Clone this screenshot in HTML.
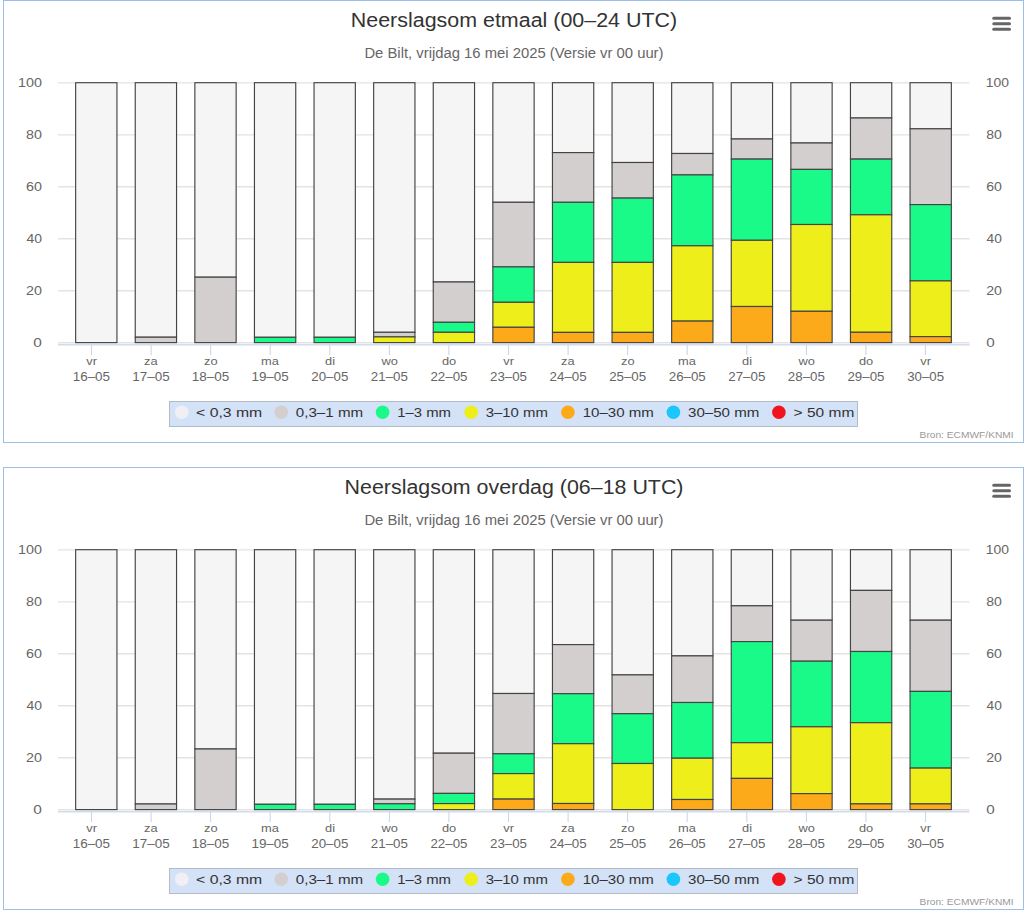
<!DOCTYPE html>
<html><head><meta charset="utf-8"><title>Neerslagsom</title>
<style>
html,body{margin:0;padding:0;background:#fff;}
body{width:1024px;height:915px;overflow:hidden;font-family:"Liberation Sans", sans-serif;}
svg{display:block;font-family:"Liberation Sans", sans-serif;}
</style></head><body>
<svg width="1024" height="915" viewBox="0 0 1024 915">
<rect x="3.5" y="0.5" width="1020" height="442" fill="#fff" stroke="#9dbdea" stroke-width="1"/>
<text x="350.79" y="26.70" font-size="20" fill="#333" textLength="326.38" lengthAdjust="spacingAndGlyphs">Neerslagsom etmaal (00–24 UTC)</text>
<text x="364.41" y="58.30" font-size="14" fill="#666" textLength="299.10" lengthAdjust="spacingAndGlyphs">De Bilt, vrijdag 16 mei 2025 (Versie vr 00 uur)</text>
<path d="M993.8 18.3 L1009.5 18.3" stroke="#666" stroke-width="3" stroke-linecap="round"/>
<path d="M993.8 23.8 L1009.5 23.8" stroke="#666" stroke-width="3" stroke-linecap="round"/>
<path d="M993.8 29.3 L1009.5 29.3" stroke="#666" stroke-width="3" stroke-linecap="round"/>
<path d="M58 82.85 L969.5 82.85" stroke="#e3e3e3" stroke-width="1.4"/>
<path d="M58 134.83 L969.5 134.83" stroke="#e3e3e3" stroke-width="1.4"/>
<path d="M58 186.81 L969.5 186.81" stroke="#e3e3e3" stroke-width="1.4"/>
<path d="M58 238.79 L969.5 238.79" stroke="#e3e3e3" stroke-width="1.4"/>
<path d="M58 290.77 L969.5 290.77" stroke="#e3e3e3" stroke-width="1.4"/>
<path d="M58 342.75 L969.5 342.75" stroke="#e3e3e3" stroke-width="1.4"/>
<text x="18.02" y="86.80" font-size="12.3" fill="#666" textLength="23.93" lengthAdjust="spacingAndGlyphs">100</text>
<text x="985.86" y="86.80" font-size="12.3" fill="#666" textLength="23.18" lengthAdjust="spacingAndGlyphs">100</text>
<text x="26.06" y="138.78" font-size="12.3" fill="#666" textLength="15.88" lengthAdjust="spacingAndGlyphs">80</text>
<text x="986.27" y="138.78" font-size="12.3" fill="#666" textLength="15.66" lengthAdjust="spacingAndGlyphs">80</text>
<text x="25.98" y="190.76" font-size="12.3" fill="#666" textLength="15.95" lengthAdjust="spacingAndGlyphs">60</text>
<text x="986.19" y="190.76" font-size="12.3" fill="#666" textLength="15.74" lengthAdjust="spacingAndGlyphs">60</text>
<text x="26.42" y="242.74" font-size="12.3" fill="#666" textLength="15.50" lengthAdjust="spacingAndGlyphs">40</text>
<text x="986.63" y="242.74" font-size="12.3" fill="#666" textLength="15.29" lengthAdjust="spacingAndGlyphs">40</text>
<text x="25.98" y="294.72" font-size="12.3" fill="#666" textLength="15.95" lengthAdjust="spacingAndGlyphs">20</text>
<text x="986.19" y="294.72" font-size="12.3" fill="#666" textLength="15.74" lengthAdjust="spacingAndGlyphs">20</text>
<text x="33.38" y="346.70" font-size="12.3" fill="#666" textLength="8.57" lengthAdjust="spacingAndGlyphs">0</text>
<text x="986.29" y="346.70" font-size="12.3" fill="#666" textLength="8.46" lengthAdjust="spacingAndGlyphs">0</text>
<rect x="75.65" y="82.7" width="41.3" height="259.9" fill="#f5f5f5" stroke="#444" stroke-width="1.15"/>
<rect x="135.25" y="82.7" width="41.3" height="254.5" fill="#f5f5f5" stroke="#444" stroke-width="1.15"/>
<rect x="135.25" y="337.2" width="41.3" height="5.4" fill="#d3cfcf" stroke="#444" stroke-width="1.15"/>
<rect x="194.85000000000002" y="82.7" width="41.3" height="194.5" fill="#f5f5f5" stroke="#444" stroke-width="1.15"/>
<rect x="194.85000000000002" y="277.2" width="41.3" height="65.4" fill="#d3cfcf" stroke="#444" stroke-width="1.15"/>
<rect x="254.45000000000002" y="82.7" width="41.3" height="254.6" fill="#f5f5f5" stroke="#444" stroke-width="1.15"/>
<rect x="254.45000000000002" y="337.3" width="41.3" height="5.3" fill="#1afa88" stroke="#444" stroke-width="1.15"/>
<rect x="314.05" y="82.7" width="41.3" height="254.6" fill="#f5f5f5" stroke="#444" stroke-width="1.15"/>
<rect x="314.05" y="337.3" width="41.3" height="5.3" fill="#1afa88" stroke="#444" stroke-width="1.15"/>
<rect x="373.65" y="82.7" width="41.3" height="249.6" fill="#f5f5f5" stroke="#444" stroke-width="1.15"/>
<rect x="373.65" y="332.3" width="41.3" height="4.6" fill="#d3cfcf" stroke="#444" stroke-width="1.15"/>
<rect x="373.65" y="336.9" width="41.3" height="5.7" fill="#eeee1a" stroke="#444" stroke-width="1.15"/>
<rect x="433.25" y="82.7" width="41.3" height="199.3" fill="#f5f5f5" stroke="#444" stroke-width="1.15"/>
<rect x="433.25" y="282.0" width="41.3" height="40.3" fill="#d3cfcf" stroke="#444" stroke-width="1.15"/>
<rect x="433.25" y="322.3" width="41.3" height="10.0" fill="#1afa88" stroke="#444" stroke-width="1.15"/>
<rect x="433.25" y="332.3" width="41.3" height="10.3" fill="#eeee1a" stroke="#444" stroke-width="1.15"/>
<rect x="492.85" y="82.7" width="41.3" height="119.6" fill="#f5f5f5" stroke="#444" stroke-width="1.15"/>
<rect x="492.85" y="202.3" width="41.3" height="64.6" fill="#d3cfcf" stroke="#444" stroke-width="1.15"/>
<rect x="492.85" y="266.9" width="41.3" height="35.4" fill="#1afa88" stroke="#444" stroke-width="1.15"/>
<rect x="492.85" y="302.3" width="41.3" height="25.0" fill="#eeee1a" stroke="#444" stroke-width="1.15"/>
<rect x="492.85" y="327.3" width="41.3" height="15.3" fill="#fca91a" stroke="#444" stroke-width="1.15"/>
<rect x="552.45" y="82.7" width="41.3" height="69.9" fill="#f5f5f5" stroke="#444" stroke-width="1.15"/>
<rect x="552.45" y="152.6" width="41.3" height="49.7" fill="#d3cfcf" stroke="#444" stroke-width="1.15"/>
<rect x="552.45" y="202.3" width="41.3" height="60.1" fill="#1afa88" stroke="#444" stroke-width="1.15"/>
<rect x="552.45" y="262.4" width="41.3" height="70.0" fill="#eeee1a" stroke="#444" stroke-width="1.15"/>
<rect x="552.45" y="332.4" width="41.3" height="10.2" fill="#fca91a" stroke="#444" stroke-width="1.15"/>
<rect x="612.05" y="82.7" width="41.3" height="79.8" fill="#f5f5f5" stroke="#444" stroke-width="1.15"/>
<rect x="612.05" y="162.5" width="41.3" height="35.6" fill="#d3cfcf" stroke="#444" stroke-width="1.15"/>
<rect x="612.05" y="198.1" width="41.3" height="64.3" fill="#1afa88" stroke="#444" stroke-width="1.15"/>
<rect x="612.05" y="262.4" width="41.3" height="70.0" fill="#eeee1a" stroke="#444" stroke-width="1.15"/>
<rect x="612.05" y="332.4" width="41.3" height="10.2" fill="#fca91a" stroke="#444" stroke-width="1.15"/>
<rect x="671.65" y="82.7" width="41.3" height="70.8" fill="#f5f5f5" stroke="#444" stroke-width="1.15"/>
<rect x="671.65" y="153.5" width="41.3" height="21.4" fill="#d3cfcf" stroke="#444" stroke-width="1.15"/>
<rect x="671.65" y="174.9" width="41.3" height="70.9" fill="#1afa88" stroke="#444" stroke-width="1.15"/>
<rect x="671.65" y="245.8" width="41.3" height="75.3" fill="#eeee1a" stroke="#444" stroke-width="1.15"/>
<rect x="671.65" y="321.1" width="41.3" height="21.5" fill="#fca91a" stroke="#444" stroke-width="1.15"/>
<rect x="731.25" y="82.7" width="41.3" height="56.3" fill="#f5f5f5" stroke="#444" stroke-width="1.15"/>
<rect x="731.25" y="139.0" width="41.3" height="20.1" fill="#d3cfcf" stroke="#444" stroke-width="1.15"/>
<rect x="731.25" y="159.1" width="41.3" height="81.2" fill="#1afa88" stroke="#444" stroke-width="1.15"/>
<rect x="731.25" y="240.3" width="41.3" height="66.2" fill="#eeee1a" stroke="#444" stroke-width="1.15"/>
<rect x="731.25" y="306.5" width="41.3" height="36.1" fill="#fca91a" stroke="#444" stroke-width="1.15"/>
<rect x="790.85" y="82.7" width="41.3" height="60.3" fill="#f5f5f5" stroke="#444" stroke-width="1.15"/>
<rect x="790.85" y="143.0" width="41.3" height="26.4" fill="#d3cfcf" stroke="#444" stroke-width="1.15"/>
<rect x="790.85" y="169.4" width="41.3" height="55.1" fill="#1afa88" stroke="#444" stroke-width="1.15"/>
<rect x="790.85" y="224.5" width="41.3" height="86.8" fill="#eeee1a" stroke="#444" stroke-width="1.15"/>
<rect x="790.85" y="311.3" width="41.3" height="31.3" fill="#fca91a" stroke="#444" stroke-width="1.15"/>
<rect x="850.45" y="82.7" width="41.3" height="35.3" fill="#f5f5f5" stroke="#444" stroke-width="1.15"/>
<rect x="850.45" y="118.0" width="41.3" height="41.1" fill="#d3cfcf" stroke="#444" stroke-width="1.15"/>
<rect x="850.45" y="159.1" width="41.3" height="55.7" fill="#1afa88" stroke="#444" stroke-width="1.15"/>
<rect x="850.45" y="214.8" width="41.3" height="117.5" fill="#eeee1a" stroke="#444" stroke-width="1.15"/>
<rect x="850.45" y="332.3" width="41.3" height="10.3" fill="#fca91a" stroke="#444" stroke-width="1.15"/>
<rect x="910.05" y="82.7" width="41.3" height="46.1" fill="#f5f5f5" stroke="#444" stroke-width="1.15"/>
<rect x="910.05" y="128.8" width="41.3" height="75.8" fill="#d3cfcf" stroke="#444" stroke-width="1.15"/>
<rect x="910.05" y="204.6" width="41.3" height="76.3" fill="#1afa88" stroke="#444" stroke-width="1.15"/>
<rect x="910.05" y="280.9" width="41.3" height="55.7" fill="#eeee1a" stroke="#444" stroke-width="1.15"/>
<rect x="910.05" y="336.6" width="41.3" height="6.0" fill="#fca91a" stroke="#444" stroke-width="1.15"/>
<path d="M58 344.75 L969.5 344.75" stroke="#d3dbee" stroke-width="1.4"/>
<path d="M91.5 345 L91.5 355" stroke="#ccd6eb" stroke-width="1.1"/>
<text x="86.34" y="365.10" font-size="11.4" fill="#666" textLength="10.70" lengthAdjust="spacingAndGlyphs">vr</text>
<text x="72.69" y="380.80" font-size="12.2" fill="#666" textLength="37.36" lengthAdjust="spacingAndGlyphs">16–05</text>
<path d="M151.1 345 L151.1 355" stroke="#ccd6eb" stroke-width="1.1"/>
<text x="144.14" y="365.10" font-size="11.4" fill="#666" textLength="13.56" lengthAdjust="spacingAndGlyphs">za</text>
<text x="132.26" y="380.80" font-size="12.2" fill="#666" textLength="37.36" lengthAdjust="spacingAndGlyphs">17–05</text>
<path d="M210.6 345 L210.6 355" stroke="#ccd6eb" stroke-width="1.1"/>
<text x="203.97" y="365.10" font-size="11.4" fill="#666" textLength="13.56" lengthAdjust="spacingAndGlyphs">zo</text>
<text x="191.83" y="380.80" font-size="12.2" fill="#666" textLength="37.36" lengthAdjust="spacingAndGlyphs">18–05</text>
<path d="M270.2 345 L270.2 355" stroke="#ccd6eb" stroke-width="1.1"/>
<text x="260.97" y="365.10" font-size="11.4" fill="#666" textLength="17.84" lengthAdjust="spacingAndGlyphs">ma</text>
<text x="251.41" y="380.80" font-size="12.2" fill="#666" textLength="37.36" lengthAdjust="spacingAndGlyphs">19–05</text>
<path d="M329.8 345 L329.8 355" stroke="#ccd6eb" stroke-width="1.1"/>
<text x="325.07" y="365.10" font-size="11.4" fill="#666" textLength="9.99" lengthAdjust="spacingAndGlyphs">di</text>
<text x="311.32" y="380.80" font-size="12.2" fill="#666" textLength="37.01" lengthAdjust="spacingAndGlyphs">20–05</text>
<path d="M389.4 345 L389.4 355" stroke="#ccd6eb" stroke-width="1.1"/>
<text x="381.53" y="365.10" font-size="11.4" fill="#666" textLength="16.41" lengthAdjust="spacingAndGlyphs">wo</text>
<text x="370.89" y="380.80" font-size="12.2" fill="#666" textLength="37.01" lengthAdjust="spacingAndGlyphs">21–05</text>
<path d="M448.9 345 L448.9 355" stroke="#ccd6eb" stroke-width="1.1"/>
<text x="441.90" y="365.10" font-size="11.4" fill="#666" textLength="14.28" lengthAdjust="spacingAndGlyphs">do</text>
<text x="430.46" y="380.80" font-size="12.2" fill="#666" textLength="37.01" lengthAdjust="spacingAndGlyphs">22–05</text>
<path d="M508.5 345 L508.5 355" stroke="#ccd6eb" stroke-width="1.1"/>
<text x="503.33" y="365.10" font-size="11.4" fill="#666" textLength="10.70" lengthAdjust="spacingAndGlyphs">vr</text>
<text x="490.03" y="380.80" font-size="12.2" fill="#666" textLength="37.01" lengthAdjust="spacingAndGlyphs">23–05</text>
<path d="M568.1 345 L568.1 355" stroke="#ccd6eb" stroke-width="1.1"/>
<text x="561.14" y="365.10" font-size="11.4" fill="#666" textLength="13.56" lengthAdjust="spacingAndGlyphs">za</text>
<text x="549.60" y="380.80" font-size="12.2" fill="#666" textLength="37.01" lengthAdjust="spacingAndGlyphs">24–05</text>
<path d="M627.6 345 L627.6 355" stroke="#ccd6eb" stroke-width="1.1"/>
<text x="620.97" y="365.10" font-size="11.4" fill="#666" textLength="13.56" lengthAdjust="spacingAndGlyphs">zo</text>
<text x="609.17" y="380.80" font-size="12.2" fill="#666" textLength="37.01" lengthAdjust="spacingAndGlyphs">25–05</text>
<path d="M687.2 345 L687.2 355" stroke="#ccd6eb" stroke-width="1.1"/>
<text x="677.97" y="365.10" font-size="11.4" fill="#666" textLength="17.84" lengthAdjust="spacingAndGlyphs">ma</text>
<text x="668.74" y="380.80" font-size="12.2" fill="#666" textLength="37.01" lengthAdjust="spacingAndGlyphs">26–05</text>
<path d="M746.8 345 L746.8 355" stroke="#ccd6eb" stroke-width="1.1"/>
<text x="742.07" y="365.10" font-size="11.4" fill="#666" textLength="9.99" lengthAdjust="spacingAndGlyphs">di</text>
<text x="728.32" y="380.80" font-size="12.2" fill="#666" textLength="37.01" lengthAdjust="spacingAndGlyphs">27–05</text>
<path d="M806.4 345 L806.4 355" stroke="#ccd6eb" stroke-width="1.1"/>
<text x="798.52" y="365.10" font-size="11.4" fill="#666" textLength="16.41" lengthAdjust="spacingAndGlyphs">wo</text>
<text x="787.89" y="380.80" font-size="12.2" fill="#666" textLength="37.01" lengthAdjust="spacingAndGlyphs">28–05</text>
<path d="M865.9 345 L865.9 355" stroke="#ccd6eb" stroke-width="1.1"/>
<text x="858.90" y="365.10" font-size="11.4" fill="#666" textLength="14.28" lengthAdjust="spacingAndGlyphs">do</text>
<text x="847.46" y="380.80" font-size="12.2" fill="#666" textLength="37.01" lengthAdjust="spacingAndGlyphs">29–05</text>
<path d="M925.5 345 L925.5 355" stroke="#ccd6eb" stroke-width="1.1"/>
<text x="920.33" y="365.10" font-size="11.4" fill="#666" textLength="10.70" lengthAdjust="spacingAndGlyphs">vr</text>
<text x="907.16" y="380.80" font-size="12.2" fill="#666" textLength="36.87" lengthAdjust="spacingAndGlyphs">30–05</text>
<rect x="169.5" y="401.5" width="688" height="25" fill="#d3e2f7" stroke="#b4bac6" stroke-width="1"/>
<circle cx="181.8" cy="412.3" r="6.8" fill="#f0f0f4"/>
<text x="196.11" y="417.30" font-size="13.4" fill="#333" textLength="66.15" lengthAdjust="spacingAndGlyphs">&lt; 0,3 mm</text>
<circle cx="281.3" cy="412.3" r="6.8" fill="#d3cfcf"/>
<text x="295.79" y="417.30" font-size="13.4" fill="#333" textLength="67.34" lengthAdjust="spacingAndGlyphs">0,3–1 mm</text>
<circle cx="382.6" cy="412.3" r="6.8" fill="#1afa88"/>
<text x="397.28" y="417.30" font-size="13.4" fill="#333" textLength="53.74" lengthAdjust="spacingAndGlyphs">1–3 mm</text>
<circle cx="471.2" cy="412.3" r="6.8" fill="#eeee1a"/>
<text x="485.70" y="417.30" font-size="13.4" fill="#333" textLength="62.25" lengthAdjust="spacingAndGlyphs">3–10 mm</text>
<circle cx="567.9" cy="412.3" r="6.8" fill="#fca91a"/>
<text x="582.67" y="417.30" font-size="13.4" fill="#333" textLength="71.10" lengthAdjust="spacingAndGlyphs">10–30 mm</text>
<circle cx="673.4" cy="412.3" r="6.8" fill="#1ac6fb"/>
<text x="688.00" y="417.30" font-size="13.4" fill="#333" textLength="71.28" lengthAdjust="spacingAndGlyphs">30–50 mm</text>
<circle cx="778.9" cy="412.3" r="6.8" fill="#f0141e"/>
<text x="793.63" y="417.30" font-size="13.4" fill="#333" textLength="60.65" lengthAdjust="spacingAndGlyphs">&gt; 50 mm</text>
<text x="919.58" y="438.40" font-size="9.7" fill="#999" textLength="94.06" lengthAdjust="spacingAndGlyphs">Bron: ECMWF/KNMI</text>
<rect x="3.5" y="467.5" width="1020" height="442" fill="#fff" stroke="#9dbdea" stroke-width="1"/>
<text x="344.59" y="493.70" font-size="20" fill="#333" textLength="338.91" lengthAdjust="spacingAndGlyphs">Neerslagsom overdag (06–18 UTC)</text>
<text x="364.41" y="525.30" font-size="14" fill="#666" textLength="299.10" lengthAdjust="spacingAndGlyphs">De Bilt, vrijdag 16 mei 2025 (Versie vr 00 uur)</text>
<path d="M993.8 485.3 L1009.5 485.3" stroke="#666" stroke-width="3" stroke-linecap="round"/>
<path d="M993.8 490.8 L1009.5 490.8" stroke="#666" stroke-width="3" stroke-linecap="round"/>
<path d="M993.8 496.3 L1009.5 496.3" stroke="#666" stroke-width="3" stroke-linecap="round"/>
<path d="M58 549.85 L969.5 549.85" stroke="#e3e3e3" stroke-width="1.4"/>
<path d="M58 601.83 L969.5 601.83" stroke="#e3e3e3" stroke-width="1.4"/>
<path d="M58 653.81 L969.5 653.81" stroke="#e3e3e3" stroke-width="1.4"/>
<path d="M58 705.79 L969.5 705.79" stroke="#e3e3e3" stroke-width="1.4"/>
<path d="M58 757.77 L969.5 757.77" stroke="#e3e3e3" stroke-width="1.4"/>
<path d="M58 809.75 L969.5 809.75" stroke="#e3e3e3" stroke-width="1.4"/>
<text x="18.02" y="553.80" font-size="12.3" fill="#666" textLength="23.93" lengthAdjust="spacingAndGlyphs">100</text>
<text x="985.86" y="553.80" font-size="12.3" fill="#666" textLength="23.18" lengthAdjust="spacingAndGlyphs">100</text>
<text x="26.06" y="605.78" font-size="12.3" fill="#666" textLength="15.88" lengthAdjust="spacingAndGlyphs">80</text>
<text x="986.27" y="605.78" font-size="12.3" fill="#666" textLength="15.66" lengthAdjust="spacingAndGlyphs">80</text>
<text x="25.98" y="657.76" font-size="12.3" fill="#666" textLength="15.95" lengthAdjust="spacingAndGlyphs">60</text>
<text x="986.19" y="657.76" font-size="12.3" fill="#666" textLength="15.74" lengthAdjust="spacingAndGlyphs">60</text>
<text x="26.42" y="709.74" font-size="12.3" fill="#666" textLength="15.50" lengthAdjust="spacingAndGlyphs">40</text>
<text x="986.63" y="709.74" font-size="12.3" fill="#666" textLength="15.29" lengthAdjust="spacingAndGlyphs">40</text>
<text x="25.98" y="761.72" font-size="12.3" fill="#666" textLength="15.95" lengthAdjust="spacingAndGlyphs">20</text>
<text x="986.19" y="761.72" font-size="12.3" fill="#666" textLength="15.74" lengthAdjust="spacingAndGlyphs">20</text>
<text x="33.38" y="813.70" font-size="12.3" fill="#666" textLength="8.57" lengthAdjust="spacingAndGlyphs">0</text>
<text x="986.29" y="813.70" font-size="12.3" fill="#666" textLength="8.46" lengthAdjust="spacingAndGlyphs">0</text>
<rect x="75.65" y="549.7" width="41.3" height="259.9" fill="#f5f5f5" stroke="#444" stroke-width="1.15"/>
<rect x="135.25" y="549.7" width="41.3" height="254.3" fill="#f5f5f5" stroke="#444" stroke-width="1.15"/>
<rect x="135.25" y="804.0" width="41.3" height="5.6" fill="#d3cfcf" stroke="#444" stroke-width="1.15"/>
<rect x="194.85000000000002" y="549.7" width="41.3" height="199.3" fill="#f5f5f5" stroke="#444" stroke-width="1.15"/>
<rect x="194.85000000000002" y="749.0" width="41.3" height="60.6" fill="#d3cfcf" stroke="#444" stroke-width="1.15"/>
<rect x="254.45000000000002" y="549.7" width="41.3" height="254.6" fill="#f5f5f5" stroke="#444" stroke-width="1.15"/>
<rect x="254.45000000000002" y="804.3" width="41.3" height="5.3" fill="#1afa88" stroke="#444" stroke-width="1.15"/>
<rect x="314.05" y="549.7" width="41.3" height="254.6" fill="#f5f5f5" stroke="#444" stroke-width="1.15"/>
<rect x="314.05" y="804.3" width="41.3" height="5.3" fill="#1afa88" stroke="#444" stroke-width="1.15"/>
<rect x="373.65" y="549.7" width="41.3" height="249.4" fill="#f5f5f5" stroke="#444" stroke-width="1.15"/>
<rect x="373.65" y="799.1" width="41.3" height="4.7" fill="#d3cfcf" stroke="#444" stroke-width="1.15"/>
<rect x="373.65" y="803.8" width="41.3" height="5.8" fill="#1afa88" stroke="#444" stroke-width="1.15"/>
<rect x="433.25" y="549.7" width="41.3" height="203.5" fill="#f5f5f5" stroke="#444" stroke-width="1.15"/>
<rect x="433.25" y="753.2" width="41.3" height="40.2" fill="#d3cfcf" stroke="#444" stroke-width="1.15"/>
<rect x="433.25" y="793.4" width="41.3" height="10.2" fill="#1afa88" stroke="#444" stroke-width="1.15"/>
<rect x="433.25" y="803.6" width="41.3" height="6.0" fill="#eeee1a" stroke="#444" stroke-width="1.15"/>
<rect x="492.85" y="549.7" width="41.3" height="143.8" fill="#f5f5f5" stroke="#444" stroke-width="1.15"/>
<rect x="492.85" y="693.5" width="41.3" height="60.3" fill="#d3cfcf" stroke="#444" stroke-width="1.15"/>
<rect x="492.85" y="753.8" width="41.3" height="19.8" fill="#1afa88" stroke="#444" stroke-width="1.15"/>
<rect x="492.85" y="773.6" width="41.3" height="25.5" fill="#eeee1a" stroke="#444" stroke-width="1.15"/>
<rect x="492.85" y="799.1" width="41.3" height="10.5" fill="#fca91a" stroke="#444" stroke-width="1.15"/>
<rect x="552.45" y="549.7" width="41.3" height="94.9" fill="#f5f5f5" stroke="#444" stroke-width="1.15"/>
<rect x="552.45" y="644.6" width="41.3" height="49.1" fill="#d3cfcf" stroke="#444" stroke-width="1.15"/>
<rect x="552.45" y="693.7" width="41.3" height="50.0" fill="#1afa88" stroke="#444" stroke-width="1.15"/>
<rect x="552.45" y="743.7" width="41.3" height="59.8" fill="#eeee1a" stroke="#444" stroke-width="1.15"/>
<rect x="552.45" y="803.5" width="41.3" height="6.1" fill="#fca91a" stroke="#444" stroke-width="1.15"/>
<rect x="612.05" y="549.7" width="41.3" height="125.2" fill="#f5f5f5" stroke="#444" stroke-width="1.15"/>
<rect x="612.05" y="674.9" width="41.3" height="38.8" fill="#d3cfcf" stroke="#444" stroke-width="1.15"/>
<rect x="612.05" y="713.7" width="41.3" height="49.8" fill="#1afa88" stroke="#444" stroke-width="1.15"/>
<rect x="612.05" y="763.5" width="41.3" height="46.1" fill="#eeee1a" stroke="#444" stroke-width="1.15"/>
<rect x="671.65" y="549.7" width="41.3" height="106.2" fill="#f5f5f5" stroke="#444" stroke-width="1.15"/>
<rect x="671.65" y="655.9" width="41.3" height="46.6" fill="#d3cfcf" stroke="#444" stroke-width="1.15"/>
<rect x="671.65" y="702.5" width="41.3" height="55.7" fill="#1afa88" stroke="#444" stroke-width="1.15"/>
<rect x="671.65" y="758.2" width="41.3" height="41.3" fill="#eeee1a" stroke="#444" stroke-width="1.15"/>
<rect x="671.65" y="799.5" width="41.3" height="10.1" fill="#fca91a" stroke="#444" stroke-width="1.15"/>
<rect x="731.25" y="549.7" width="41.3" height="56.1" fill="#f5f5f5" stroke="#444" stroke-width="1.15"/>
<rect x="731.25" y="605.8" width="41.3" height="35.8" fill="#d3cfcf" stroke="#444" stroke-width="1.15"/>
<rect x="731.25" y="641.6" width="41.3" height="101.1" fill="#1afa88" stroke="#444" stroke-width="1.15"/>
<rect x="731.25" y="742.7" width="41.3" height="35.7" fill="#eeee1a" stroke="#444" stroke-width="1.15"/>
<rect x="731.25" y="778.4" width="41.3" height="31.2" fill="#fca91a" stroke="#444" stroke-width="1.15"/>
<rect x="790.85" y="549.7" width="41.3" height="70.5" fill="#f5f5f5" stroke="#444" stroke-width="1.15"/>
<rect x="790.85" y="620.2" width="41.3" height="41.0" fill="#d3cfcf" stroke="#444" stroke-width="1.15"/>
<rect x="790.85" y="661.2" width="41.3" height="65.6" fill="#1afa88" stroke="#444" stroke-width="1.15"/>
<rect x="790.85" y="726.8" width="41.3" height="66.8" fill="#eeee1a" stroke="#444" stroke-width="1.15"/>
<rect x="790.85" y="793.6" width="41.3" height="16.0" fill="#fca91a" stroke="#444" stroke-width="1.15"/>
<rect x="850.45" y="549.7" width="41.3" height="40.7" fill="#f5f5f5" stroke="#444" stroke-width="1.15"/>
<rect x="850.45" y="590.4" width="41.3" height="61.1" fill="#d3cfcf" stroke="#444" stroke-width="1.15"/>
<rect x="850.45" y="651.5" width="41.3" height="71.2" fill="#1afa88" stroke="#444" stroke-width="1.15"/>
<rect x="850.45" y="722.7" width="41.3" height="81.2" fill="#eeee1a" stroke="#444" stroke-width="1.15"/>
<rect x="850.45" y="803.9" width="41.3" height="5.7" fill="#fca91a" stroke="#444" stroke-width="1.15"/>
<rect x="910.05" y="549.7" width="41.3" height="70.5" fill="#f5f5f5" stroke="#444" stroke-width="1.15"/>
<rect x="910.05" y="620.2" width="41.3" height="71.2" fill="#d3cfcf" stroke="#444" stroke-width="1.15"/>
<rect x="910.05" y="691.4" width="41.3" height="76.7" fill="#1afa88" stroke="#444" stroke-width="1.15"/>
<rect x="910.05" y="768.1" width="41.3" height="35.8" fill="#eeee1a" stroke="#444" stroke-width="1.15"/>
<rect x="910.05" y="803.9" width="41.3" height="5.7" fill="#fca91a" stroke="#444" stroke-width="1.15"/>
<path d="M58 811.75 L969.5 811.75" stroke="#d3dbee" stroke-width="1.4"/>
<path d="M91.5 812 L91.5 822" stroke="#ccd6eb" stroke-width="1.1"/>
<text x="86.34" y="832.10" font-size="11.4" fill="#666" textLength="10.70" lengthAdjust="spacingAndGlyphs">vr</text>
<text x="72.69" y="847.80" font-size="12.2" fill="#666" textLength="37.36" lengthAdjust="spacingAndGlyphs">16–05</text>
<path d="M151.1 812 L151.1 822" stroke="#ccd6eb" stroke-width="1.1"/>
<text x="144.14" y="832.10" font-size="11.4" fill="#666" textLength="13.56" lengthAdjust="spacingAndGlyphs">za</text>
<text x="132.26" y="847.80" font-size="12.2" fill="#666" textLength="37.36" lengthAdjust="spacingAndGlyphs">17–05</text>
<path d="M210.6 812 L210.6 822" stroke="#ccd6eb" stroke-width="1.1"/>
<text x="203.97" y="832.10" font-size="11.4" fill="#666" textLength="13.56" lengthAdjust="spacingAndGlyphs">zo</text>
<text x="191.83" y="847.80" font-size="12.2" fill="#666" textLength="37.36" lengthAdjust="spacingAndGlyphs">18–05</text>
<path d="M270.2 812 L270.2 822" stroke="#ccd6eb" stroke-width="1.1"/>
<text x="260.97" y="832.10" font-size="11.4" fill="#666" textLength="17.84" lengthAdjust="spacingAndGlyphs">ma</text>
<text x="251.41" y="847.80" font-size="12.2" fill="#666" textLength="37.36" lengthAdjust="spacingAndGlyphs">19–05</text>
<path d="M329.8 812 L329.8 822" stroke="#ccd6eb" stroke-width="1.1"/>
<text x="325.07" y="832.10" font-size="11.4" fill="#666" textLength="9.99" lengthAdjust="spacingAndGlyphs">di</text>
<text x="311.32" y="847.80" font-size="12.2" fill="#666" textLength="37.01" lengthAdjust="spacingAndGlyphs">20–05</text>
<path d="M389.4 812 L389.4 822" stroke="#ccd6eb" stroke-width="1.1"/>
<text x="381.53" y="832.10" font-size="11.4" fill="#666" textLength="16.41" lengthAdjust="spacingAndGlyphs">wo</text>
<text x="370.89" y="847.80" font-size="12.2" fill="#666" textLength="37.01" lengthAdjust="spacingAndGlyphs">21–05</text>
<path d="M448.9 812 L448.9 822" stroke="#ccd6eb" stroke-width="1.1"/>
<text x="441.90" y="832.10" font-size="11.4" fill="#666" textLength="14.28" lengthAdjust="spacingAndGlyphs">do</text>
<text x="430.46" y="847.80" font-size="12.2" fill="#666" textLength="37.01" lengthAdjust="spacingAndGlyphs">22–05</text>
<path d="M508.5 812 L508.5 822" stroke="#ccd6eb" stroke-width="1.1"/>
<text x="503.33" y="832.10" font-size="11.4" fill="#666" textLength="10.70" lengthAdjust="spacingAndGlyphs">vr</text>
<text x="490.03" y="847.80" font-size="12.2" fill="#666" textLength="37.01" lengthAdjust="spacingAndGlyphs">23–05</text>
<path d="M568.1 812 L568.1 822" stroke="#ccd6eb" stroke-width="1.1"/>
<text x="561.14" y="832.10" font-size="11.4" fill="#666" textLength="13.56" lengthAdjust="spacingAndGlyphs">za</text>
<text x="549.60" y="847.80" font-size="12.2" fill="#666" textLength="37.01" lengthAdjust="spacingAndGlyphs">24–05</text>
<path d="M627.6 812 L627.6 822" stroke="#ccd6eb" stroke-width="1.1"/>
<text x="620.97" y="832.10" font-size="11.4" fill="#666" textLength="13.56" lengthAdjust="spacingAndGlyphs">zo</text>
<text x="609.17" y="847.80" font-size="12.2" fill="#666" textLength="37.01" lengthAdjust="spacingAndGlyphs">25–05</text>
<path d="M687.2 812 L687.2 822" stroke="#ccd6eb" stroke-width="1.1"/>
<text x="677.97" y="832.10" font-size="11.4" fill="#666" textLength="17.84" lengthAdjust="spacingAndGlyphs">ma</text>
<text x="668.74" y="847.80" font-size="12.2" fill="#666" textLength="37.01" lengthAdjust="spacingAndGlyphs">26–05</text>
<path d="M746.8 812 L746.8 822" stroke="#ccd6eb" stroke-width="1.1"/>
<text x="742.07" y="832.10" font-size="11.4" fill="#666" textLength="9.99" lengthAdjust="spacingAndGlyphs">di</text>
<text x="728.32" y="847.80" font-size="12.2" fill="#666" textLength="37.01" lengthAdjust="spacingAndGlyphs">27–05</text>
<path d="M806.4 812 L806.4 822" stroke="#ccd6eb" stroke-width="1.1"/>
<text x="798.52" y="832.10" font-size="11.4" fill="#666" textLength="16.41" lengthAdjust="spacingAndGlyphs">wo</text>
<text x="787.89" y="847.80" font-size="12.2" fill="#666" textLength="37.01" lengthAdjust="spacingAndGlyphs">28–05</text>
<path d="M865.9 812 L865.9 822" stroke="#ccd6eb" stroke-width="1.1"/>
<text x="858.90" y="832.10" font-size="11.4" fill="#666" textLength="14.28" lengthAdjust="spacingAndGlyphs">do</text>
<text x="847.46" y="847.80" font-size="12.2" fill="#666" textLength="37.01" lengthAdjust="spacingAndGlyphs">29–05</text>
<path d="M925.5 812 L925.5 822" stroke="#ccd6eb" stroke-width="1.1"/>
<text x="920.33" y="832.10" font-size="11.4" fill="#666" textLength="10.70" lengthAdjust="spacingAndGlyphs">vr</text>
<text x="907.16" y="847.80" font-size="12.2" fill="#666" textLength="36.87" lengthAdjust="spacingAndGlyphs">30–05</text>
<rect x="169.5" y="868.5" width="688" height="25" fill="#d3e2f7" stroke="#b4bac6" stroke-width="1"/>
<circle cx="181.8" cy="879.3" r="6.8" fill="#f0f0f4"/>
<text x="196.11" y="884.30" font-size="13.4" fill="#333" textLength="66.15" lengthAdjust="spacingAndGlyphs">&lt; 0,3 mm</text>
<circle cx="281.3" cy="879.3" r="6.8" fill="#d3cfcf"/>
<text x="295.79" y="884.30" font-size="13.4" fill="#333" textLength="67.34" lengthAdjust="spacingAndGlyphs">0,3–1 mm</text>
<circle cx="382.6" cy="879.3" r="6.8" fill="#1afa88"/>
<text x="397.28" y="884.30" font-size="13.4" fill="#333" textLength="53.74" lengthAdjust="spacingAndGlyphs">1–3 mm</text>
<circle cx="471.2" cy="879.3" r="6.8" fill="#eeee1a"/>
<text x="485.70" y="884.30" font-size="13.4" fill="#333" textLength="62.25" lengthAdjust="spacingAndGlyphs">3–10 mm</text>
<circle cx="567.9" cy="879.3" r="6.8" fill="#fca91a"/>
<text x="582.67" y="884.30" font-size="13.4" fill="#333" textLength="71.10" lengthAdjust="spacingAndGlyphs">10–30 mm</text>
<circle cx="673.4" cy="879.3" r="6.8" fill="#1ac6fb"/>
<text x="688.00" y="884.30" font-size="13.4" fill="#333" textLength="71.28" lengthAdjust="spacingAndGlyphs">30–50 mm</text>
<circle cx="778.9" cy="879.3" r="6.8" fill="#f0141e"/>
<text x="793.63" y="884.30" font-size="13.4" fill="#333" textLength="60.65" lengthAdjust="spacingAndGlyphs">&gt; 50 mm</text>
<text x="919.58" y="905.40" font-size="9.7" fill="#999" textLength="94.06" lengthAdjust="spacingAndGlyphs">Bron: ECMWF/KNMI</text>
</svg>
</body></html>
